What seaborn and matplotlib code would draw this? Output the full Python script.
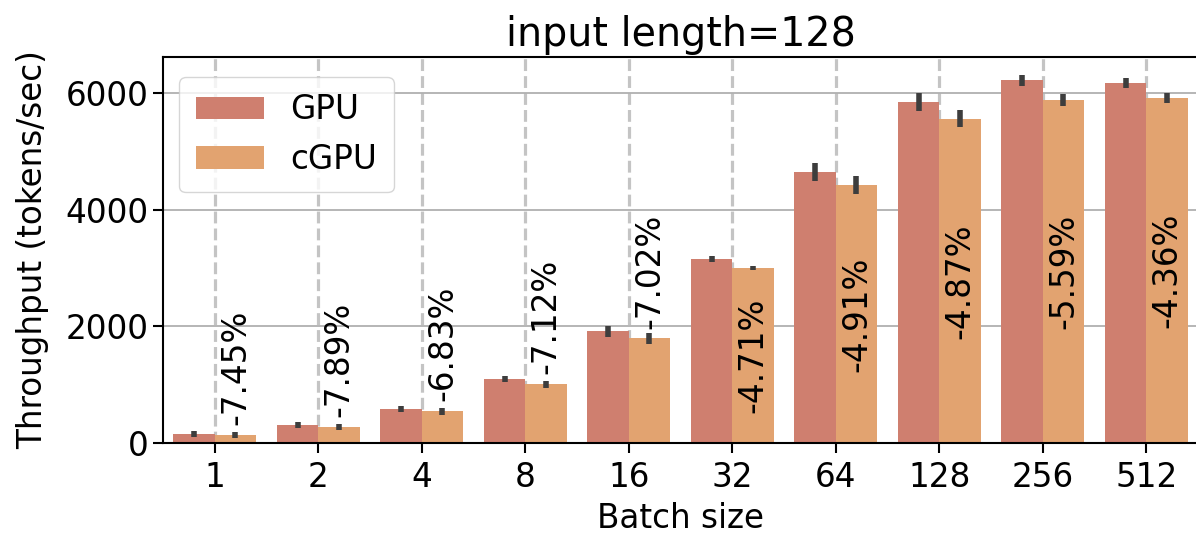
import matplotlib
matplotlib.use("Agg")
import matplotlib.pyplot as plt
import seaborn as sns
import pandas as pd
import numpy as np

batch_sizes = ["1", "2", "4", "8", "16", "32", "64", "128", "256", "512"]
gpu_vals = [154, 308, 583, 1097, 1920, 3154, 4645, 5845, 6222, 6180]
cgpu_vals = [137, 274, 548, 1011, 1795, 3000, 4422, 5560, 5880, 5914]
gpu_err = [45, 45, 45, 45, 95, 50, 160, 155, 95, 85]
cgpu_err = [50, 55, 60, 60, 95, 40, 160, 145, 110, 85]
pct_labels = ["-7.45%", "-7.89%", "-6.83%", "-7.12%", "-7.02%",
              "-4.71%", "-4.91%", "-4.87%", "-5.59%", "-4.36%"]
series = ["GPU", "cGPU"]
colors = ["#CF7F6F", "#E2A370"]

df = pd.DataFrame({
    "Batch size": batch_sizes * 2,
    "Throughput": gpu_vals + cgpu_vals,
    "system": [series[0]] * len(batch_sizes) + [series[1]] * len(batch_sizes),
})

sns.set_style("ticks")
FS = 23.5
plt.rcParams.update({
    "font.family": ["DejaVu Sans"],
    "font.size": FS,
    "text.color": "black",
    "axes.labelcolor": "black",
    "xtick.color": "black",
    "ytick.color": "black",
})

fig = plt.figure(figsize=(11.96, 5.37), dpi=100)
ax = fig.add_axes([0.1363, 0.175, 0.8654, 0.719])

# dashed vertical guides at each category (behind bars)
for i in range(len(batch_sizes)):
    ax.axvline(i, color="#c4c4c4", linestyle="--", linewidth=2.3, zorder=0)

sns.barplot(data=df, x="Batch size", y="Throughput", hue="system",
            order=batch_sizes, hue_order=series, palette=colors,
            saturation=1, errorbar=None, width=0.8, linewidth=0,
            ax=ax, zorder=2)

for cont, errs in zip(ax.containers, [gpu_err, cgpu_err]):
    xs = [p.get_x() + p.get_width() / 2 for p in cont.patches]
    ys = [p.get_height() for p in cont.patches]
    ax.errorbar(xs, ys, yerr=errs, fmt="none", ecolor="#3d3d3d",
                elinewidth=4.0, capsize=0, zorder=4)

cg_cont = ax.containers[1]
for p, lab, v in zip(cg_cont.patches, pct_labels, cgpu_vals):
    xc = p.get_x() + p.get_width() / 2
    if v > 2500:
        ax.text(xc, v / 2, lab, rotation=90, ha="center", va="center",
                fontsize=FS, zorder=5)
    else:
        ax.annotate(lab, (xc, v), xytext=(0, 7), textcoords="offset points",
                    rotation=90, ha="center", va="bottom", fontsize=FS, zorder=5)

ax.yaxis.grid(True, color="#b0b0b0", linewidth=1.3, zorder=0)
ax.set_axisbelow(True)
ax.set_ylim(0, 6620)
ax.set_xlim(-0.5, len(batch_sizes) - 0.5)
ax.set_yticks([0, 2000, 4000, 6000])
ax.tick_params(axis="both", labelsize=FS, length=7, width=1.5, direction="out")
ax.tick_params(axis="x", pad=6)
for s in ax.spines.values():
    s.set_linewidth(1.5)
    s.set_color("black")

ax.set_xlabel("Batch size", fontsize=FS, labelpad=6)
ax.set_ylabel("Throughput (tokens/sec)", fontsize=FS, labelpad=12)
ax.set_title("input length=128", fontsize=28.5, pad=8)

leg = ax.legend(loc="upper left", fontsize=FS, frameon=True, fancybox=True,
                framealpha=0.8, handlelength=2.1, borderpad=0.5,
                bbox_to_anchor=(0.0, 0.99))
leg.set_title(None)

fig.savefig("out.png", dpi=100)
